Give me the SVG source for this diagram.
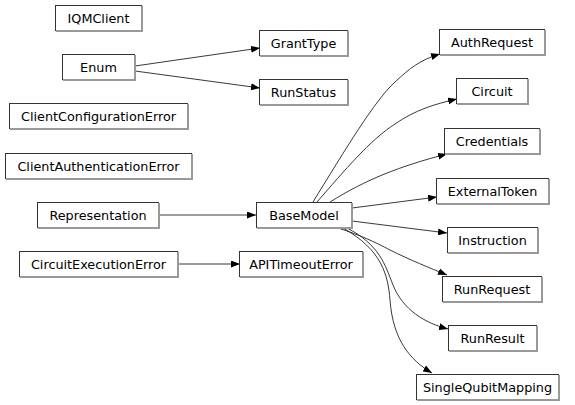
<svg xmlns="http://www.w3.org/2000/svg" width="575" height="405" viewBox="0 0 575 405">
<style>
.box rect.b{fill:#fff;stroke:#333;stroke-width:1}
.box path.s{fill:none;stroke:#999;stroke-width:2}
.box text{font-family:"DejaVu Sans",sans-serif;font-size:12.8px;fill:#000;text-anchor:middle}
.edges path{fill:none;stroke:#222;stroke-width:0.9}
</style>
<defs>
<marker id="arr" markerWidth="9" markerHeight="7" refX="9" refY="3.5" orient="auto" markerUnits="userSpaceOnUse">
<path d="M0,0 L9,3.5 L0,7 Z" fill="#000"/>
</marker>
</defs>
<rect width="575" height="405" fill="#fff"/>
<g class="edges">
<path d="M135,66 L260,48" marker-end="url(#arr)"/>
<path d="M135,71 L260,88" marker-end="url(#arr)"/>
<path d="M159,215 L256,215" marker-end="url(#arr)"/>
<path d="M178,264 L240,264" marker-end="url(#arr)"/>
<path d="M313,202 C345,150 375,100 395,82 C410,68 420,60 440,54" marker-end="url(#arr)"/>
<path d="M317,202 C345,170 370,140 395,124 C415,110 435,104 457,99" marker-end="url(#arr)"/>
<path d="M330,202 C365,180 400,166 447,154" marker-end="url(#arr)"/>
<path d="M352,208 L437,197" marker-end="url(#arr)"/>
<path d="M352,221 L447,233" marker-end="url(#arr)"/>
<path d="M338,228 C360,235 375,242 390,250 C410,260 430,268 447,275" marker-end="url(#arr)"/>
<path d="M347,228 C380,245 385,265 393,285 C403,310 425,323 448,329" marker-end="url(#arr)"/>
<path d="M343,228 C382,250 388,275 390,300 C393,340 410,360 432,373" marker-end="url(#arr)"/>
</g>
<g id="IQMClient" class="box"><rect class="b" x="55.5" y="5.5" width="86" height="25"/><path class="s" d="M142,6 V31 H56"/><text x="98.5" y="22.5">IQMClient</text></g>
<g id="Enum" class="box"><rect class="b" x="62.5" y="54.5" width="72" height="25"/><path class="s" d="M135,55 V80 H63"/><text x="98.5" y="71.5">Enum</text></g>
<g id="ClientConfigurationError" class="box"><rect class="b" x="9.5" y="103.5" width="178" height="25"/><path class="s" d="M188,104 V129 H10"/><text x="98.5" y="120.5">ClientConfigurationError</text></g>
<g id="ClientAuthenticationError" class="box"><rect class="b" x="5.5" y="153.5" width="186" height="25"/><path class="s" d="M192,154 V179 H6"/><text x="98.5" y="170.5">ClientAuthenticationError</text></g>
<g id="Representation" class="box"><rect class="b" x="37.5" y="202.5" width="121" height="25"/><path class="s" d="M159,203 V228 H38"/><text x="98" y="219.5">Representation</text></g>
<g id="CircuitExecutionError" class="box"><rect class="b" x="19.5" y="251.5" width="158" height="25"/><path class="s" d="M178,252 V277 H20"/><text x="98.5" y="268.5">CircuitExecutionError</text></g>
<g id="GrantType" class="box"><rect class="b" x="259.5" y="30.5" width="88" height="25"/><path class="s" d="M348,31 V56 H260"/><text x="303.5" y="47.5">GrantType</text></g>
<g id="RunStatus" class="box"><rect class="b" x="259.5" y="79.5" width="88" height="25"/><path class="s" d="M348,80 V105 H260"/><text x="303.5" y="96.5">RunStatus</text></g>
<g id="BaseModel" class="box"><rect class="b" x="256.5" y="202.5" width="95" height="25"/><path class="s" d="M352,203 V228 H257"/><text x="304" y="219.5">BaseModel</text></g>
<g id="APITimeoutError" class="box"><rect class="b" x="239.5" y="251.5" width="123" height="25"/><path class="s" d="M363,252 V277 H240"/><text x="301" y="268.5">APITimeoutError</text></g>
<g id="AuthRequest" class="box"><rect class="b" x="439.5" y="29.5" width="105" height="25"/><path class="s" d="M545,30 V55 H440"/><text x="492" y="46.5">AuthRequest</text></g>
<g id="Circuit" class="box"><rect class="b" x="456.5" y="78.5" width="71" height="25"/><path class="s" d="M528,79 V104 H457"/><text x="492" y="95.5">Circuit</text></g>
<g id="Credentials" class="box"><rect class="b" x="444.5" y="128.5" width="95" height="25"/><path class="s" d="M540,129 V154 H445"/><text x="492" y="145.5">Credentials</text></g>
<g id="ExternalToken" class="box"><rect class="b" x="436.5" y="178.5" width="112" height="25"/><path class="s" d="M549,179 V204 H437"/><text x="492.5" y="195.5">ExternalToken</text></g>
<g id="Instruction" class="box"><rect class="b" x="447.5" y="227.5" width="90" height="25"/><path class="s" d="M538,228 V253 H448"/><text x="492.5" y="244.5">Instruction</text></g>
<g id="RunRequest" class="box"><rect class="b" x="442.5" y="276.5" width="99" height="25"/><path class="s" d="M542,277 V302 H443"/><text x="492" y="293.5">RunRequest</text></g>
<g id="RunResult" class="box"><rect class="b" x="448.5" y="325.5" width="88" height="25"/><path class="s" d="M537,326 V351 H449"/><text x="492.5" y="342.5">RunResult</text></g>
<g id="SingleQubitMapping" class="box"><rect class="b" x="416.5" y="374.5" width="142" height="25"/><path class="s" d="M559,375 V400 H417"/><text x="487.5" y="391.5">SingleQubitMapping</text></g>
</svg>
